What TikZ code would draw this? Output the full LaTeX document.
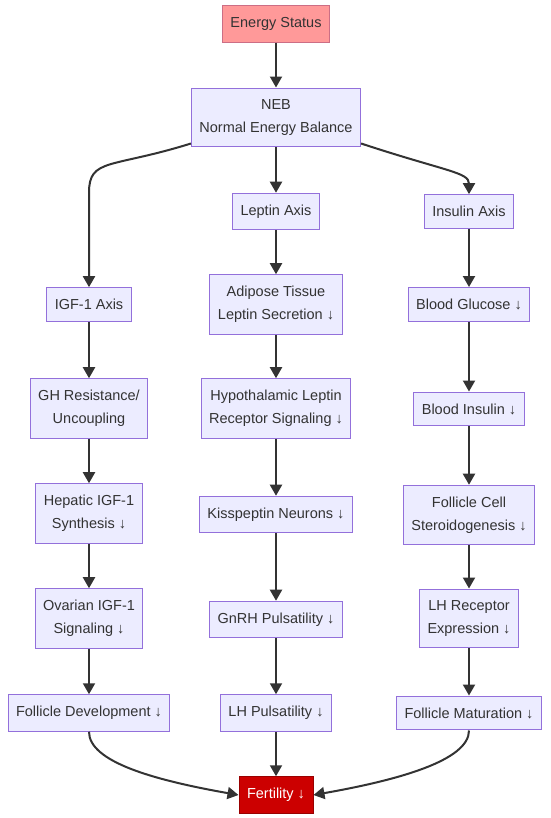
\documentclass[tikz,border=0pt]{standalone}
\usepackage{fontspec}
\setmainfont{Liberation Sans}
\usetikzlibrary{arrows.meta}
\definecolor{boxfill}{HTML}{ECECFF}
\definecolor{boxline}{HTML}{9370DB}
\definecolor{ink}{HTML}{333333}
\definecolor{startfill}{HTML}{FF9999}
\definecolor{startline}{HTML}{CC6E85}
\definecolor{endfill}{HTML}{CC0000}
\definecolor{endline}{HTML}{990000}

\begin{document}
\begin{tikzpicture}[x=1pt, y=-1pt,
		box/.style={draw=boxline, fill=boxfill, line width=1pt, text=ink, align=center,
			inner xsep=8pt, inner ysep=11.5pt, font=\fontsize{14.5}{23}\selectfont},
		startbox/.style={box, draw=startline, fill=startfill},
		endbox/.style={box, draw=endline, fill=endfill, text=white},
		arr/.style={draw=ink, line width=2pt, -{Triangle[length=11pt, width=12pt]}}]
			\useasboundingbox (0,0) rectangle (550,818);
			\node[startbox] (energy) at (276, 24) {Energy Status};
			\node[box] (neb) at (276, 117.5) {NEB\\Normal Energy Balance};
			% left column
			\node[box] (igf) at (89, 304.5) {IGF-1 Axis};
			\node[box] (ghres) at (89, 408.5) {GH Resistance/\\Uncoupling};
			\node[box] (hepatic) at (89, 513.5) {Hepatic IGF-1\\Synthesis ↓};
			\node[box] (ovarian) at (89, 618.5) {Ovarian IGF-1\\Signaling ↓};
			\node[box] (foldev) at (89, 713) {Follicle Development ↓};
			% middle column
			\node[box] (leptin) at (276, 211.5) {Leptin Axis};
			\node[box] (adipose) at (276, 304.5) {Adipose Tissue\\Leptin Secretion ↓};
			\node[box] (hypoth) at (276, 408.5) {Hypothalamic Leptin\\Receptor Signaling ↓};
			\node[box] (kiss) at (276, 514.5) {Kisspeptin Neurons ↓};
			\node[box] (gnrh) at (276, 619.5) {GnRH Pulsatility ↓};
			\node[box] (lhpuls) at (276, 713) {LH Pulsatility ↓};
			% right column
			\node[box] (insulin) at (469, 211.5) {Insulin Axis};
			\node[box] (glucose) at (469, 304.5) {Blood Glucose ↓};
			\node[box] (bloodins) at (469, 409) {Blood Insulin ↓};
			\node[box] (steroid) at (469, 515) {Follicle Cell\\Steroidogenesis ↓};
			\node[box] (lhrec) at (469, 618.5) {LH Receptor\\Expression ↓};
			\node[box] (folmat) at (469, 713) {Follicle Maturation ↓};
			\node[endbox] (fertility) at (276, 795) {Fertility ↓};
			\coordinate (igfbend) at (igf.north |- leptin.north);
			\draw[arr] (energy) -- (neb);
			\draw[arr] (neb) -- (leptin);
			\draw[arr] ([yshift=4pt]neb.south west) .. controls +(-80,25) and +(0,-35) .. (igfbend) -- (igf.north);
			\draw[arr] ([yshift=4pt]neb.south east) .. controls +(85,28) and +(0,-22) .. (insulin.north);
			\draw[arr] (igf) -- (ghres);
			\draw[arr] (ghres) -- (hepatic);
			\draw[arr] (hepatic) -- (ovarian);
			\draw[arr] (ovarian) -- (foldev);
			\draw[arr] (leptin) -- (adipose);
			\draw[arr] (adipose) -- (hypoth);
			\draw[arr] (hypoth) -- (kiss);
			\draw[arr] (kiss) -- (gnrh);
			\draw[arr] (gnrh) -- (lhpuls);
			\draw[arr] (insulin) -- (glucose);
			\draw[arr] (glucose) -- (bloodins);
			\draw[arr] (bloodins) -- (steroid);
			\draw[arr] (steroid) -- (lhrec);
			\draw[arr] (lhrec) -- (folmat);
			\draw[arr] (foldev.south) .. controls +(0,30) and +(-85,-15) .. (fertility.west);
			\draw[arr] (lhpuls) -- (fertility);
			\draw[arr] (folmat.south) .. controls +(0,30) and +(85,-15) .. (fertility.east);
		\end{tikzpicture}
\end{document}
